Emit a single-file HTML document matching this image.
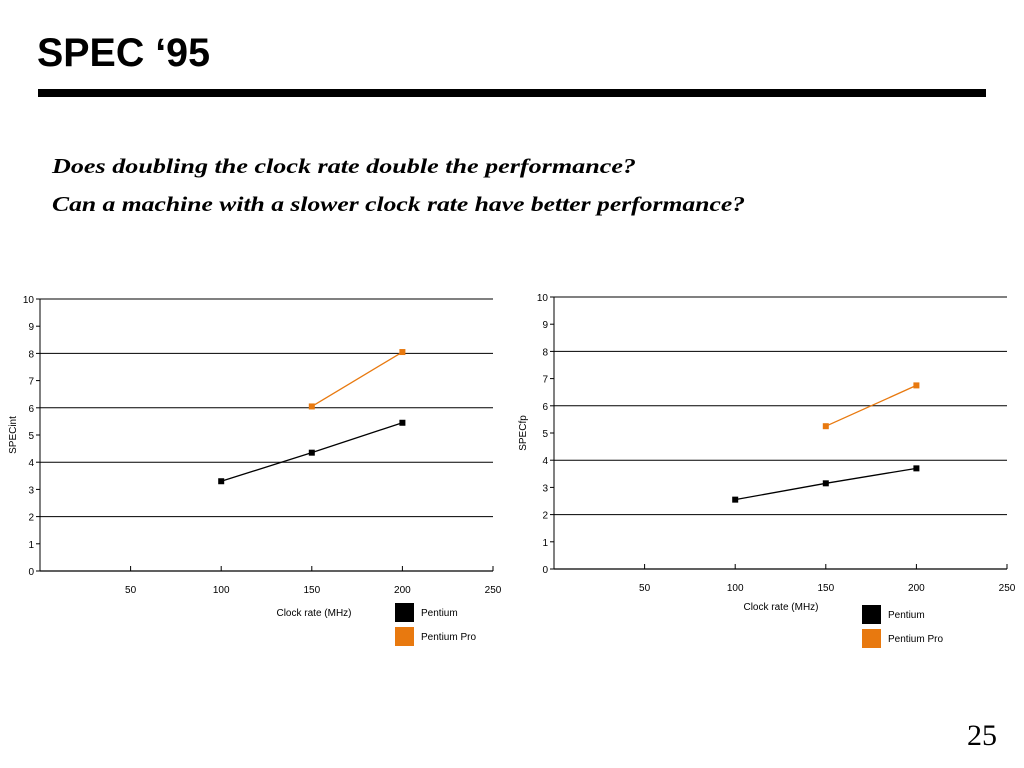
<!DOCTYPE html>
<html><head><meta charset="utf-8"><style>
body{margin:0;background:#fff;width:1024px;height:768px;overflow:hidden}
svg{display:block}
</style></head><body>
<svg id="s" width="1024" height="768" xmlns="http://www.w3.org/2000/svg" font-family="Liberation Sans, sans-serif">
<text x="37" y="66" font-size="40" font-weight="bold" textLength="173" lengthAdjust="spacingAndGlyphs">SPEC ‘95</text>
<rect x="38" y="89" width="948" height="8" fill="#000"/>
<text x="52" y="173" font-family="Liberation Serif, serif" font-style="italic" font-weight="bold" font-size="21" textLength="584" lengthAdjust="spacingAndGlyphs">Does doubling the clock rate double the performance?</text>
<text x="52" y="211" font-family="Liberation Serif, serif" font-style="italic" font-weight="bold" font-size="21" textLength="693" lengthAdjust="spacingAndGlyphs">Can a machine with a slower clock rate have better performance?</text>
<text x="997" y="745" text-anchor="end" font-family="Liberation Serif, serif" font-size="30">25</text>
<g id="c1"></g>
<g id="c2"></g>
</svg>
<script>
const xTicks=[50,100,150,200,250];
const yTicks=[0,1,2,3,4,5,6,7,8,9,10];
const clockPentium=[100,150,200];
const clockPro=[150,200];
const intPentium=[3.3,4.35,5.45];
const intPro=[6.05,8.05];
const fpPentium=[2.55,3.15,3.7];
const fpPro=[5.25,6.75];
const NS='http://www.w3.org/2000/svg';
function mk(p,t,a,txt){const e=document.createElementNS(NS,t);for(const k in a)e.setAttribute(k,a[k]);if(txt!==undefined)e.textContent=txt;p.appendChild(e);return e;}
function chart(g,o){
 const X=v=>o.x0+(o.x1-o.x0)*v/250, Y=v=>o.y0-(o.y0-o.y1)*v/10;
 yTicks.forEach(v=>{
  if(v%2===0){const l=mk(g,'line',{x1:X(0),x2:X(250),y1:Y(v),y2:Y(v),stroke:'#000','stroke-width':v===0?1.2:1});
  
  }
  mk(g,'line',{x1:X(0)-4,x2:X(0),y1:Y(v),y2:Y(v),stroke:'#000'});
  const t=mk(g,'text',{x:X(0)-6,y:Y(v)+4,'text-anchor':'end','font-size':10},v);
  
  
 });
 mk(g,'line',{x1:X(0),x2:X(0),y1:Y(0),y2:Y(10),stroke:'#000'});
 xTicks.forEach(v=>{
  mk(g,'line',{x1:X(v),x2:X(v),y1:Y(0),y2:Y(0)-5,stroke:'#000'});
  const t=mk(g,'text',{x:X(v),y:Y(0)+22,'text-anchor':'middle','font-size':10},v);
  
  
 });
 const yt=mk(g,'text',{transform:`translate(${o.ylx},${(Y(0)+Y(10))/2}) rotate(-90)`,'text-anchor':'middle','font-size':10},o.ylabel);
 
 
 const xt=mk(g,'text',{x:o.xlx,y:o.xly,'text-anchor':'middle','font-size':10},'Clock rate (MHz)');
 
 
 [[clockPentium,o.p,'#000','pentium'],[clockPro,o.pp,'#e8790f','pentium-pro']].forEach(([xs,ys,c,n])=>{
  const pl=mk(g,'polyline',{points:xs.map((x,i)=>X(x)+','+Y(ys[i])).join(' '),fill:'none',stroke:c,'stroke-width':1.3});
  
  
  xs.forEach((x,i)=>{const r=mk(g,'rect',{x:X(x)-3,y:Y(ys[i])-3,width:6,height:6,fill:c});
   
   });
 });
 [['Pentium','#000',0],['Pentium Pro','#e8790f',24]].forEach(([t,c,d])=>{
  const r=mk(g,'rect',{x:o.lgx,y:o.lgy+d,width:19,height:19,fill:c});
  
  
  const tx=mk(g,'text',{x:o.lgx+26,y:o.lgy+d+13,'font-size':10},t);
  
  
 });
}
chart(document.getElementById('c1'),{x0:40,x1:493,y0:571,y1:299,ylabel:'SPECint',ylx:16,xlx:314,xly:616,lgx:395,lgy:603,p:intPentium,pp:intPro});
chart(document.getElementById('c2'),{x0:554,x1:1007,y0:569,y1:297,ylabel:'SPECfp',ylx:526,xlx:781,xly:610,lgx:862,lgy:605,p:fpPentium,pp:fpPro});
</script>
</body></html>
